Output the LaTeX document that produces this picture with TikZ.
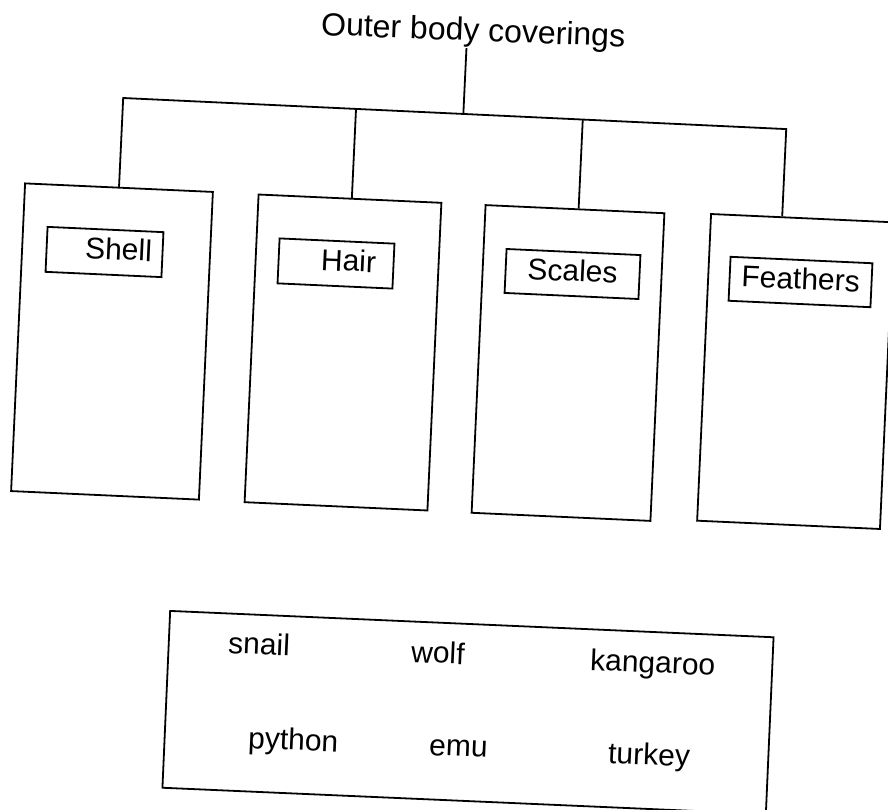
\documentclass[tikz,border=0pt]{standalone}
\usepackage{fontspec}
\setmainfont{Liberation Sans}
\usetikzlibrary{calc}
\tikzset{
  panel/.style={draw, rectangle, inner sep=0pt, rotate=-2.6, minimum height=308pt},
  tag/.style={draw, rectangle, inner sep=0pt, rotate=-2.6, minimum height=45pt, font=\fontsize{30}{36}\selectfont},
  word/.style={anchor=base west, inner sep=0pt, rotate=-2.5, font=\fontsize{30}{36}\selectfont},
  headline/.style={anchor=base west, inner sep=0pt, rotate=-2.2, font=\fontsize{32}{38}\selectfont},
}
\begin{document}
\begin{tikzpicture}[x=1pt,y=-1pt,line width=1.8pt]
\useasboundingbox (0,0) rectangle (888,810);
\clip (0,0) rectangle (888,810);

% title
\node[headline] (title) at (320,35) {Outer body coverings};

% panels
\node[panel, minimum width=188pt] (shellbox) at (112,341.5) {};
\node[panel, minimum width=183pt] (hairbox) at (343,352.5) {};
\node[panel, minimum width=179pt] (scalesbox) at (568,363) {};
\node[panel, minimum width=183pt, minimum height=307pt] (feathersbox) at (795.5,371.5) {};

% tags
\node[tag, minimum width=116pt] (shell) at (104.5,252) {\hspace*{28pt}Shell\strut};
\node[tag, minimum width=115pt] (hair) at (336,263.5) {\hspace*{25pt}Hair\strut};
\node[tag, minimum width=134pt, minimum height=44pt] (scales) at (572.5,274) {Scales\strut};
\node[tag, minimum width=142pt, minimum height=44pt] (feathers) at (800.5,282) {Feathers\strut};

% bracket
\coordinate (l1) at (123,98);
\coordinate (l2) at (784,129);
\coordinate (d1) at (shellbox.north);
\coordinate (d2) at ($(hairbox.north west)!0.51!(hairbox.north east)$);
\coordinate (d3) at ($(scalesbox.north west)!0.52!(scalesbox.north east)$);
\coordinate (d4) at ($(feathersbox.north west)!0.39!(feathersbox.north east)$);
\coordinate (t0) at ($(title.south west)!0.48!(title.south east)$);
\draw (d1) -- ($(l1)!(d1)!(l2)$) -- ($(l1)!(d4)!(l2)$) -- (d4);
\draw (d2) -- ($(l1)!(d2)!(l2)$);
\draw (d3) -- ($(l1)!(d3)!(l2)$);
\draw (t0) -- ($(l1)!(t0)!(l2)$);

% word bank
\node[draw, rectangle, inner sep=0pt, rotate=-2.5, minimum width=604pt, minimum height=177pt] (bank) at (468,712.5) {};
\node[word] (snail) at (227,653) {snail};
\node[word] (wolf) at (410,662) {wolf};
\node[word] (kangaroo) at (589,670) {kangaroo};
\node[word] (python) at (247,748) {python};
\node[word] (emu) at (428,755) {emu};
\node[word] (turkey) at (607,763) {turkey};
\end{tikzpicture}
\end{document}
